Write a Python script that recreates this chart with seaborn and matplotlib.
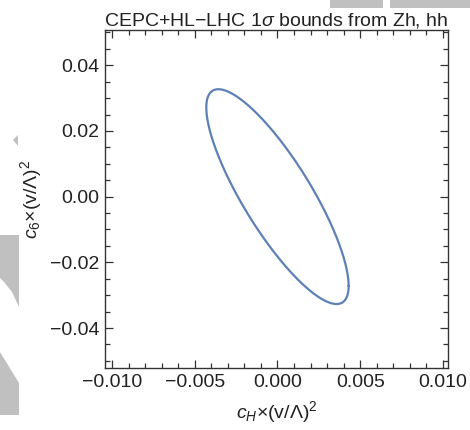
import numpy as np
import pandas as pd
import matplotlib
matplotlib.use("Agg")
import matplotlib.pyplot as plt
import matplotlib.ticker as mticker
from matplotlib.patches import Polygon
import seaborn as sns

# 1-sigma region in the (c_H, c_6) plane
center = [0.0, 0.0]
sigma_cH = 0.0043
sigma_c6 = 0.0327
rho = -0.83

x_ticks = [-0.010, -0.005, 0.000, 0.005, 0.010]
y_ticks = [-0.04, -0.02, 0.00, 0.02, 0.04]
title = r"CEPC+HL$-$LHC 1$\sigma$ bounds from Zh, hh"
xlabel = r"$c_H$×(v/Λ)$^2$"
ylabel = r"$c_6$×(v/Λ)$^2$"

sns.set_theme(style="ticks")
plt.rcParams["font.family"] = ["Liberation Sans", "DejaVu Sans"]
plt.rcParams["mathtext.fontset"] = "custom"
plt.rcParams["mathtext.rm"] = "Liberation Sans"
plt.rcParams["mathtext.it"] = "Liberation Sans:italic"
plt.rcParams["mathtext.bf"] = "Liberation Sans:bold"

t = np.linspace(0, 2 * np.pi, 400)
df = pd.DataFrame({
    "cH": center[0] + sigma_cH * np.cos(t),
    "c6": center[1] + sigma_c6 * (rho * np.cos(t) + np.sqrt(1 - rho ** 2) * np.sin(t)),
})

fig = plt.figure(figsize=(4.7, 4.3), dpi=100)
ax = fig.add_axes([0.2234, 0.144, 0.7297, 0.786])

sns.lineplot(data=df, x="cH", y="c6", sort=False, estimator=None,
             color="#5e81b5", lw=1.6, ax=ax)

ax.set_xlim(-0.01042, 0.0103)
ax.set_ylim(-0.0522, 0.0507)
ax.xaxis.set_major_locator(mticker.FixedLocator(x_ticks))
ax.yaxis.set_major_locator(mticker.FixedLocator(y_ticks))
ax.xaxis.set_minor_locator(mticker.MultipleLocator(0.001))
ax.yaxis.set_minor_locator(mticker.MultipleLocator(0.005))
ax.xaxis.set_major_formatter(mticker.FuncFormatter(lambda v, p: f"{v:.3f}".replace("-", "\u2212")))
ax.yaxis.set_major_formatter(mticker.FuncFormatter(lambda v, p: f"{v:.2f}".replace("-", "\u2212")))

ax.tick_params(which="both", direction="in", top=True, right=True,
               color="#333333", width=0.9, labelsize=14, labelcolor="#222222")
ax.tick_params(which="major", length=6, pad=4)
ax.tick_params(which="minor", length=3.5)
for s in ax.spines.values():
    s.set_color("#333333")
    s.set_linewidth(1.0)

ax.set_title(title, fontsize=14, pad=1, color="#222222")
ax.set_xlabel(xlabel, fontsize=14, labelpad=6, color="#222222")
ax.set_ylabel(ylabel, fontsize=14, labelpad=4, color="#222222")

# light grey page fragments around the figure
grey = "#c0c0c0"
W, H = 470.0, 430.0
def px(pts):
    return [(x / W, 1 - y / H) for x, y in pts]
shapes = [
    [(13, 140), (18, 135), (18, 146)],
    [(0, 235), (19, 235), (19, 307), (12, 292), (4, 282), (0, 278)],
    [(0, 352), (19, 383), (19, 415), (0, 415)],
    [(330, 0), (383, 0), (383, 8), (330, 8)],
    [(390, 0), (470, 0), (470, 8), (390, 8)],
]
for pts in shapes:
    fig.patches.append(Polygon(px(pts), closed=True, transform=fig.transFigure,
                               facecolor=grey, edgecolor="none", zorder=0))

fig.savefig("out.png", dpi=100)
